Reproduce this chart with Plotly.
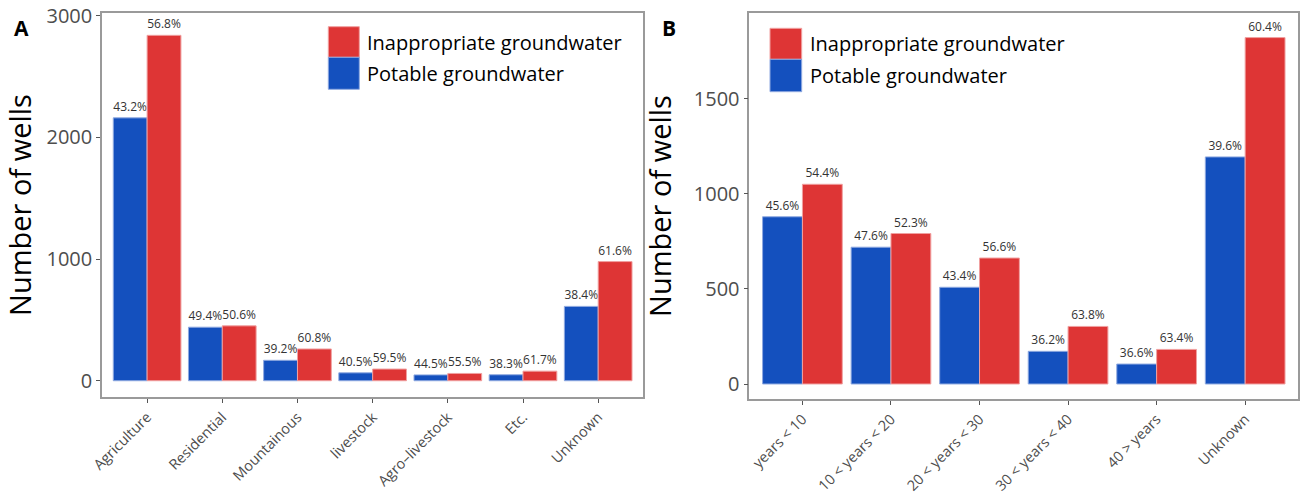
import plotly.graph_objects as go

# ---------------- data ----------------
cat_a = ["Agriculture", "Residential", "Mountainous", "livestock", "Agro\u2013livestock", "Etc.", "Unknown"]
potable_a = [2160, 440, 168, 65, 48, 49, 611]
inapp_a = [2838, 451, 261, 96, 60, 79, 979]
potable_a_lbl = ["43.2%", "49.4%", "39.2%", "40.5%", "44.5%", "38.3%", "38.4%"]
inapp_a_lbl = ["56.8%", "50.6%", "60.8%", "59.5%", "55.5%", "61.7%", "61.6%"]

cat_b = ["years < 10", "10 < years < 20", "20 < years < 30", "30 < years < 40", "40 > years", "Unknown"]
potable_b = [880, 720, 509, 172, 105, 1195]
inapp_b = [1051, 792, 663, 303, 182, 1823]
potable_b_lbl = ["45.6%", "47.6%", "43.4%", "36.2%", "36.6%", "39.6%"]
inapp_b_lbl = ["54.4%", "52.3%", "56.6%", "63.8%", "63.4%", "60.4%"]

yticks_a = [0, 1000, 2000, 3000]
yticks_b = [0, 500, 1000, 1500]

BLUE = "#1450BE"
RED = "#DE3535"
FONT = "Open Sans"
W, H = 1300, 496

fig = go.Figure()

def add_bars(cats, vals, labels, color, name, xa, ya, edge):
    fig.add_trace(go.Bar(
        x=cats, y=vals, text=labels, name=name,
        marker=dict(color=color, line=dict(color=edge, width=1)),
        textposition="outside", cliponaxis=False, constraintext="none",
        textfont=dict(family=FONT, size=12, color="#333333"),
        xaxis=xa, yaxis=ya, showlegend=False,
    ))

add_bars(cat_a, potable_a, potable_a_lbl, BLUE, "Potable groundwater", "x", "y", "#8fa9e0")
add_bars(cat_a, inapp_a, inapp_a_lbl, RED, "Inappropriate groundwater", "x", "y", "#f0a0a0")
add_bars(cat_b, potable_b, potable_b_lbl, BLUE, "Potable groundwater", "x2", "y2", "#8fa9e0")
add_bars(cat_b, inapp_b, inapp_b_lbl, RED, "Inappropriate groundwater", "x2", "y2", "#f0a0a0")

def px_x(p):
    return p / W

def px_y(p):
    return 1 - p / H

axis_common = dict(
    showline=True, linecolor="#9a9a9a", linewidth=1.5, mirror=True,
    showgrid=False, zeroline=False, automargin=False,
    ticks="outside", ticklen=4, tickcolor="#555555", tickwidth=1,
    ticklabeloverflow="allow",
)

fig.update_layout(
    width=W, height=H,
    margin=dict(l=0, r=0, t=0, b=0),
    paper_bgcolor="white", plot_bgcolor="white",
    barmode="group", bargap=0.1, bargroupgap=0,
    font=dict(family=FONT),
    xaxis=dict(domain=[px_x(102), px_x(643.3)], anchor="y", range=[-0.6, len(cat_a) - 0.4],
               tickangle=-45, tickfont=dict(size=14.5, color="#4d4d4d"), **axis_common),
    yaxis=dict(domain=[px_y(397.3), px_y(12.7)], anchor="x", range=[-136, 3024],
               tickvals=yticks_a, tickfont=dict(size=20, color="#4d4d4d"),
               title=dict(text="Number of wells", font=dict(size=29, color="black"), standoff=6),
               **axis_common),
    xaxis2=dict(domain=[px_x(749.3), px_x(1298.3)], anchor="y2", range=[-0.6, len(cat_b) - 0.4],
                tickangle=-45, tickfont=dict(size=14.5, color="#4d4d4d"), **axis_common),
    yaxis2=dict(domain=[px_y(399.3), px_y(12.7)], anchor="x2", range=[-80.5, 1954],
                tickvals=yticks_b, tickfont=dict(size=20, color="#4d4d4d"),
                title=dict(text="Number of wells", font=dict(size=29, color="black"), standoff=14),
                **axis_common),
)

# panel letters
fig.add_annotation(text="<b>A</b>", x=px_x(21), y=px_y(28), xref="paper", yref="paper",
                   showarrow=False, font=dict(family=FONT, size=21, color="black"),
                   xanchor="center", yanchor="middle")
fig.add_annotation(text="<b>B</b>", x=px_x(669), y=px_y(28), xref="paper", yref="paper",
                   showarrow=False, font=dict(family=FONT, size=21, color="black"),
                   xanchor="center", yanchor="middle")

# custom legends (large square keys like ggplot)
def legend(x0, x1, y0, ymid, y1, tx):
    fig.add_shape(type="rect", xref="paper", yref="paper",
                  x0=px_x(x0), x1=px_x(x1), y0=px_y(ymid), y1=px_y(y0),
                  fillcolor=RED, line=dict(color="#f0a0a0", width=1))
    fig.add_shape(type="rect", xref="paper", yref="paper",
                  x0=px_x(x0), x1=px_x(x1), y0=px_y(y1), y1=px_y(ymid),
                  fillcolor=BLUE, line=dict(color="#8fa9e0", width=1))
    fig.add_annotation(text="Inappropriate groundwater", x=px_x(tx), y=px_y((y0 + ymid) / 2),
                       xref="paper", yref="paper", showarrow=False, xanchor="left", yanchor="middle",
                       font=dict(family=FONT, size=20, color="black"))
    fig.add_annotation(text="Potable groundwater", x=px_x(tx), y=px_y((ymid + y1) / 2),
                       xref="paper", yref="paper", showarrow=False, xanchor="left", yanchor="middle",
                       font=dict(family=FONT, size=20, color="black"))

legend(328.3, 359.3, 26.7, 57.3, 89.3, 365)
legend(770, 801.7, 28.3, 59.3, 91.7, 807.5)

fig.write_html("out.html",
               config={"displayModeBar": False},
               post_script="document.body.style.margin='0px';document.body.style.overflow='hidden';")
